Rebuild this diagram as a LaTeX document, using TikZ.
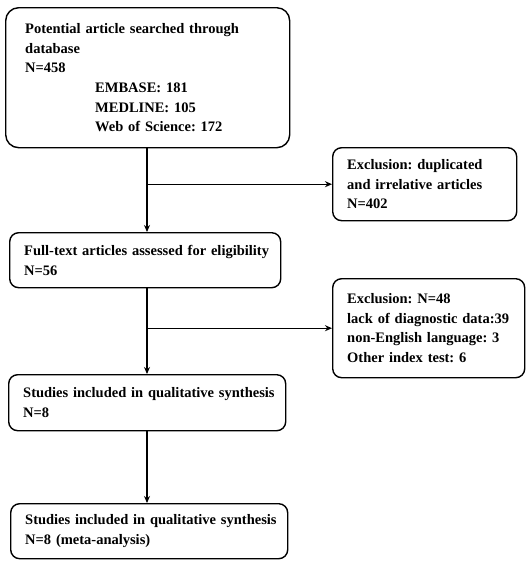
\documentclass[tikz,border=0pt]{standalone}
\usepackage{fontspec}
\setmainfont{Liberation Serif}
\usetikzlibrary{arrows.meta}
\begin{document}
\frenchspacing
\hbadness=10000 \hfuzz=50pt
\begin{tikzpicture}[x=1pt,y=-1pt,
  box/.style={draw, line width=1.4pt, rounded corners=9pt, anchor=north west,
    inner xsep=12pt, inner ysep=0pt, align=left,
    font=\fontsize{14.5}{19.7}\selectfont\bfseries},
  conn/.style={line width=1.3pt, -{Stealth[length=7pt,width=6pt]}}]
\useasboundingbox (0,0) rectangle (530,562);
\node[box, rounded corners=13pt, minimum width=284pt, minimum height=140pt, text width=255pt] (b1) at (5,7)
  {\mbox{\hspace*{5pt}Potential article searched through}\\\hspace*{5pt}database\\\hspace*{5pt}N=458\\
   \mbox{\hspace*{75pt}EMBASE: 181}\\\mbox{\hspace*{75pt}MEDLINE: 105}\\\mbox{\hspace*{75pt}Web of Science: 172}};
\node[box, minimum width=184pt, minimum height=73pt, text width=155pt] (b2) at (332,147)
  {\mbox{Exclusion: duplicated}\\\mbox{and irrelative articles}\\N=402};
\node[box, minimum width=271pt, minimum height=55pt, text width=242pt] (b3) at (9,232)
  {\mbox{Full-text articles assessed for eligibility}\\N=56};
\node[box, minimum width=192pt, minimum height=99pt, text width=163pt] (b4) at (332,278)
  {\mbox{Exclusion: N=48}\\\mbox{lack of diagnostic data:39}\\\mbox{non-English language: 3}\\\mbox{Other index test: 6}};
\node[box, minimum width=277pt, minimum height=56pt, text width=248pt] (b5) at (8,374)
  {\mbox{Studies included in qualitative synthesis}\\N=8};
\node[box, minimum width=277pt, minimum height=55pt, text width=248pt] (b6) at (10,503)
  {\mbox{Studies included in qualitative synthesis}\\\mbox{N=8 (meta-analysis)}};
\coordinate (m) at (147,0);
\draw[conn] (m |- b1.south) -- (m |- b3.north);
\draw[conn] (m |- b2.west) -- (b2.west);
\draw[conn] (m |- b3.south) -- (m |- b5.north);
\draw[conn] (m |- b4.west) -- (b4.west);
\draw[conn] (m |- b5.south) -- (m |- b6.north);
\end{tikzpicture}
\end{document}
